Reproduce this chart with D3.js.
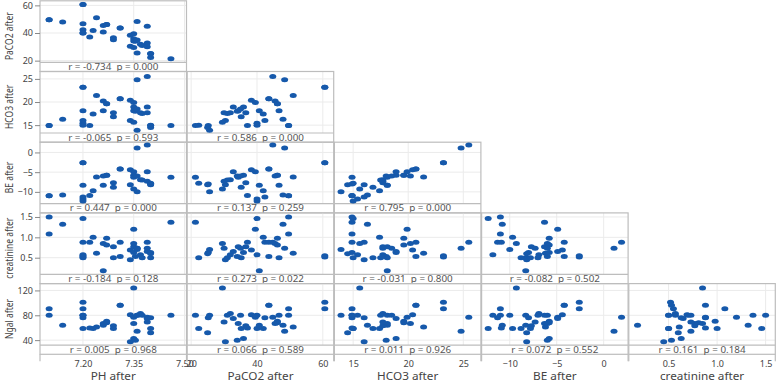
<!DOCTYPE html>
<html><head><meta charset="utf-8">
<script src="https://cdn.jsdelivr.net/npm/d3@7/dist/d3.min.js"></script>
<style>body{margin:0;background:#fff} svg{display:block} text{font-family:"Noto Sans","Open Sans",sans-serif}</style>
</head><body><svg id="c" width="777" height="382"></svg>
<script>
// ---- data (one entry per observation) ----
const varNames = ["PH after","PaCO2 after","HCO3 after","BE after","creatinine after","Ngal after"];
const PH     = [7.10,7.10,7.14,7.20,7.20,7.20,7.20,7.20,7.20,7.22,7.23,7.24,7.26,7.27,7.26,7.27,7.29,7.29,7.31,7.31,7.34,7.34,7.35,7.35,7.35,7.35,7.355,7.36,7.36,7.36,7.37,7.375,7.39,7.39,7.39,7.40,7.40,7.40,7.46];
const PaCO2  = [49.6,49.6,47.9,60.6,60.6,46.7,42.4,40.0,40.0,37.1,41.9,51.0,45.5,46.2,40.7,46.2,36.6,35.2,43.6,43.6,38.3,30.4,39.5,35.9,34.3,29.5,34.0,48.4,25.6,35.0,31.9,31.0,32.8,44.8,30.0,25.2,22.3,25.0,21.3];
const HCO3   = [14.9,14.9,16.3,23.2,23.2,18.1,16.0,15.4,15.0,14.9,17.4,21.4,20.2,19.6,18.1,19.6,17.7,16.8,20.7,20.7,20.4,16.0,19.9,18.9,18.1,15.6,18.0,24.8,13.9,18.5,17.7,17.5,18.9,25.5,17.7,14.9,15.0,14.5,14.9];
const BE     = [-11.0,-11.0,-10.8,-2.6,-2.6,-8.3,-11.3,-11.8,-12.3,-10.9,-9.7,-6.2,-6.0,-5.8,-8.3,-5.8,-7.7,-8.8,-4.2,-4.2,-4.4,-8.2,-4.9,-5.8,-6.3,-9.3,-6.0,1.1,-10.0,-6.0,-6.9,-7.0,-4.9,1.9,-7.3,-8.0,-7.8,-8.2,-6.3];
const creat  = [1.50,1.08,1.32,0.52,0.55,0.50,0.88,0.57,1.46,0.88,1.00,0.61,0.85,0.98,0.18,0.81,0.77,0.50,0.88,0.53,0.69,0.45,1.20,0.63,0.77,0.85,0.53,0.73,0.70,0.73,0.57,0.50,0.65,0.88,0.73,0.63,0.50,0.60,1.37];
const Ngal   = [80,90.7,64,101,90.7,80,76,80,58.7,59.7,58.7,61,66.7,70.4,64,68,63,58.7,96,96,81,37.3,77,42.7,66.7,124,40,54.4,80,80,82.7,80,74.7,77,69.3,76,58.7,52,80];
const series = [PH,PaCO2,HCO3,BE,creat,Ngal];

// axis domains and tick labels per variable
const domains = [[7.073,7.506],[18.8,63.3],[13.3,26.6],[-13.0,2.6],[0.09,1.6],[32,131]];
const tickVals = [[7.20,7.35,7.50],[20,40,60],[15,20,25],[-10,-5,0],[0.5,1.0,1.5],[40,80,120]];
const tickFmt = [".2f","d","d","d",".1f","d"];

// correlation labels, row by row (rows = PaCO2..Ngal, cols = PH..)
const rVals = [["-0.734"],["-0.065","0.586"],["0.447","0.137","0.795"],["-0.184","0.273","-0.031","-0.082"],["0.005","0.066","0.011","0.072","0.161"]];
const pVals = [["0.000"],["0.593","0.000"],["0.000","0.259","0.000"],["0.128","0.022","0.800","0.502"],["0.968","0.589","0.926","0.552","0.184"]];

// ---- layout ----
const L0=40, CW=147.2, PW=146.5, T0=0.8, RH=70.7, PLH=61.5, BH=9.2, SX=1.12;
const dotColor="#1659ab", frameColor="#bdbdbd", gridColor="#ebebeb";
const svg=d3.select("#c");
const NB="\u00a0";

for(let i=0;i<5;i++){
  const vy=i+1, top=T0+RH*i;
  for(let j=0;j<=i;j++){
    const left=L0+CW*j;
    const x=d3.scaleLinear().domain(domains[j]).range([left,left+PW]);
    const y=d3.scaleLinear().domain(domains[vy]).range([top+PLH,top]);
    const g=svg.append("g");
    // grid
    g.selectAll(".gx").data(tickVals[j]).join("line")
      .attr("x1",d=>x(d)).attr("x2",d=>x(d)).attr("y1",top).attr("y2",top+PLH)
      .attr("stroke",gridColor).attr("stroke-width",1);
    g.selectAll(".gy").data(tickVals[vy]).join("line")
      .attr("x1",left).attr("x2",left+PW).attr("y1",d=>y(d)).attr("y2",d=>y(d))
      .attr("stroke",gridColor).attr("stroke-width",1);
    // frame + band
    g.append("rect").attr("x",left).attr("y",top).attr("width",PW).attr("height",PLH+BH)
      .attr("fill","none").attr("stroke",frameColor).attr("stroke-width",1.2);
    g.append("line").attr("x1",left).attr("x2",left+PW).attr("y1",top+PLH).attr("y2",top+PLH)
      .attr("stroke",frameColor).attr("stroke-width",1.2);
    // points
    const pts=d3.range(PH.length).map(k=>[series[j][k],series[vy][k]]);
    g.selectAll("ellipse").data(pts).join("ellipse")
      .attr("cx",d=>x(d[0])).attr("cy",d=>y(d[1])).attr("rx",3.5).attr("ry",2.5)
      .attr("fill",dotColor);
    // stats
    g.append("text").attr("transform",`translate(${left+PW/2},${top+PLH+BH/2+3}) scale(${SX},1)`)
      .attr("text-anchor","middle").attr("font-size",8.8).attr("fill","#555")
      .text(`r = ${rVals[i][j]}${NB}${NB}p = ${pVals[i][j]}`);
    // y axis on first column
    if(j===0){
      const ay=svg.append("g").attr("transform",`translate(${left},0)`)
        .call(d3.axisLeft(y).tickValues(tickVals[vy]).tickFormat(d3.format(tickFmt[vy])).tickSize(5).tickPadding(2));
      ay.select(".domain").remove();
      ay.selectAll(".tick line").attr("stroke","#888");
      ay.selectAll(".tick text").attr("font-size",9).attr("fill","#444")
        .attr("font-family","'Noto Sans',sans-serif");
      svg.append("text").attr("transform",`translate(9,${top+RH/2}) rotate(-90) scale(0.85,1.15)`)
        .attr("text-anchor","middle").attr("dy","0.35em").attr("font-size",10).attr("fill","#444")
        .text(varNames[vy]);
    }
    // x axis on last row
    if(i===4){
      const bottom=top+PLH+BH;
      const ax=svg.append("g").attr("transform",`translate(0,${bottom})`)
        .call(d3.axisBottom(x).tickValues(tickVals[j]).tickFormat(d3.format(tickFmt[j])).tickSize(0).tickPadding(6));
      ax.select(".domain").remove();
      ax.selectAll(".tick text").attr("font-size",9).attr("fill","#444")
        .attr("font-family","'Noto Sans',sans-serif");
      // short border extensions below the bottom row
      [left,left+PW].forEach(xx=>{
        svg.append("line").attr("x1",xx).attr("x2",xx).attr("y1",bottom).attr("y2",bottom+7)
          .attr("stroke",frameColor).attr("stroke-width",1.2);
      });
      svg.append("text").attr("transform",`translate(${left+PW/2},380) scale(${SX},1)`)
        .attr("text-anchor","middle").attr("font-size",10.5).attr("fill","#444")
        .text(varNames[j]);
    }
  }
}
</script></body></html>
